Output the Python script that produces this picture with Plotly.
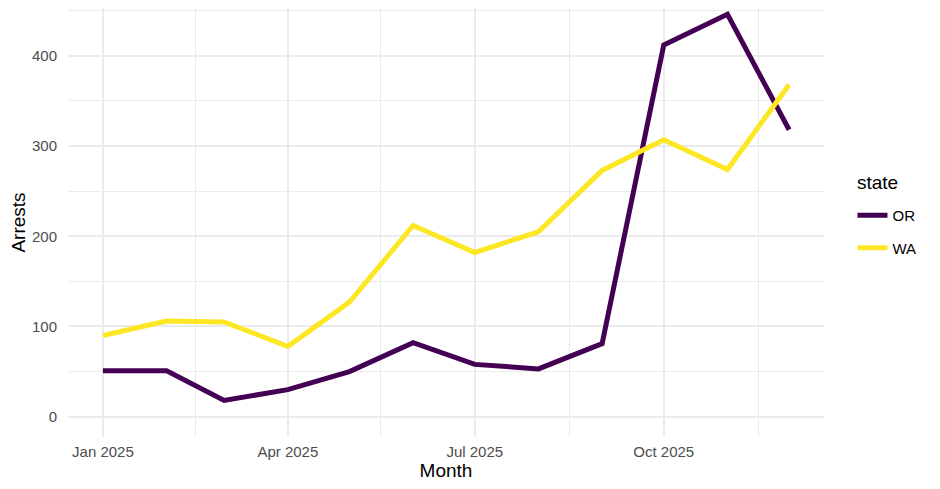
import pandas as pd
import plotly.graph_objects as go

# monthly arrests by state
months = pd.date_range("2025-01-01", "2025-12-01", freq="MS")
or_arrests = [51, 51, 18, 30, 50, 82, 58, 53, 81, 412, 446, 318]
wa_arrests = [90, 106, 105, 78, 127, 212, 182, 205, 273, 307, 274, 368]

x_ticks = ["2025-01-01", "2025-04-01", "2025-07-01", "2025-10-01"]
x_minor = ["2025-02-15", "2025-05-16", "2025-08-16", "2025-11-16"]
y_ticks = [0, 100, 200, 300, 400]

grid = "#EBEBEB"
tick_col = "#4D4D4D"

fig = go.Figure()
fig.add_trace(go.Scatter(x=months, y=or_arrests, name="OR", mode="lines",
                         line=dict(color="#440154", width=5), legendgroup="OR"))
fig.add_trace(go.Scatter(x=months, y=wa_arrests, name="WA", mode="lines",
                         line=dict(color="#FDE725", width=5), legendgroup="WA"))

fig.update_layout(
    width=940, height=489,
    margin=dict(l=60, r=124, t=0, b=60),
    paper_bgcolor="white", plot_bgcolor="white",
    font=dict(family="Liberation Sans, Arial, sans-serif", size=15, color="black"),
    legend=dict(x=1.0377, xanchor="left", y=0.555, yanchor="top",
                font=dict(size=15), tracegroupgap=10),
)
# legend title, placed by hand so the gap above the keys matches
fig.add_annotation(text="state", xref="paper", yref="paper", x=1.041, y=0.5944,
                   xanchor="left", yanchor="middle", showarrow=False,
                   font=dict(size=19, color="black"))

fig.update_xaxes(
    range=["2024-12-15", "2025-12-18"],
    tickmode="array", tickvals=x_ticks, tickformat="%b %Y",
    tickfont=dict(color=tick_col, size=15), ticklabelstandoff=4,
    showgrid=True, gridcolor=grid, gridwidth=1.8,
    minor=dict(tickmode="array", tickvals=x_minor, showgrid=True, gridcolor=grid, gridwidth=0.9),
    zeroline=False, showline=False, ticks="",
    title=dict(text="Month", font=dict(size=19), standoff=4),
)
fig.update_yaxes(
    range=[-22.5, 453],
    tickmode="array", tickvals=y_ticks,
    tickfont=dict(color=tick_col, size=15), ticklabelstandoff=10,
    showgrid=True, gridcolor=grid, gridwidth=1.8,
    minor=dict(dtick=50, showgrid=True, gridcolor=grid, gridwidth=0.9),
    zeroline=False, showline=False, ticks="",
    title=dict(text="Arrests", font=dict(size=19), standoff=2),
)

fig.write_html("out.html")
